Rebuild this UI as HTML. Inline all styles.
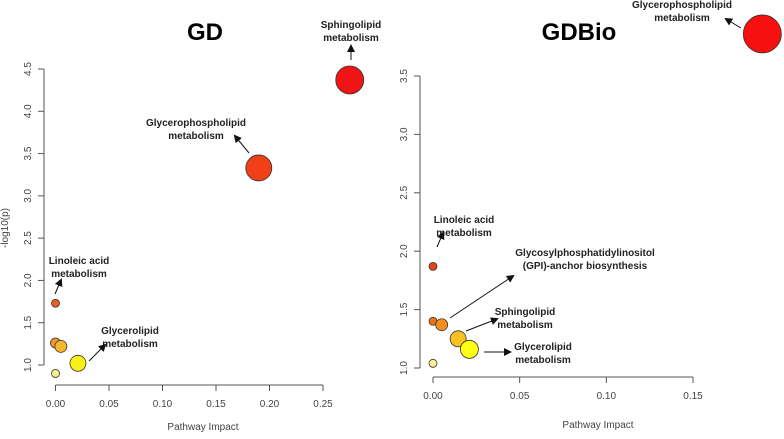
<!DOCTYPE html>
<html><head><meta charset="utf-8"><style>
body{margin:0;background:#fff;width:784px;height:434px;overflow:hidden}
svg{font-family:"Liberation Sans",sans-serif}
.tk{font-size:10px;fill:#444}
.an{font-size:10px;font-weight:bold;fill:#222}
</style></head><body>
<svg id="c" width="784" height="434">
<defs><marker id="ah" markerWidth="8" markerHeight="8" refX="6" refY="4" orient="auto"><path d="M0,0 L8,4 L0,8 z" fill="#111"/></marker></defs>
</svg>
<script>
// Left panel (GD)
const gdX=[0,0,0.005,0.021,0,0.19,0.275];
const gdY=[1.73,1.26,1.22,1.02,0.90,3.33,4.37];
const gdR=[4,5,6,8,4,13,14];
const gdCol=["#e8601a","#f0982a","#f5b82a","#f8f018","#f8f088","#f04018","#f01414"];
const gdXTicks=[0,0.05,0.10,0.15,0.20,0.25];
const gdXLabels=["0.00","0.05","0.10","0.15","0.20","0.25"];
const gdYTicks=[1.0,1.5,2.0,2.5,3.0,3.5,4.0,4.5];
const gdYLabels=["1.0","1.5","2.0","2.5","3.0","3.5","4.0","4.5"];
// Right panel (GDBio)
const bioX=[0,0,0.005,0.0145,0.021,0,0.19];
const bioY=[1.87,1.40,1.37,1.25,1.16,1.04,3.86];
const bioR=[4,4,6,8,9,4,19];
const bioCol=["#e84418","#f07018","#f59020","#f8c020","#ffff14","#f8f090","#f81010"];
const bioXTicks=[0,0.05,0.10,0.15];
const bioXLabels=["0.00","0.05","0.10","0.15"];
const bioYTicks=[1.0,1.5,2.0,2.5,3.0,3.5];
const bioYLabels=["1.0","1.5","2.0","2.5","3.0","3.5"];

const svg=document.getElementById('c');
const NS="http://www.w3.org/2000/svg";
function mk(t,a,p){const e=document.createElementNS(NS,t);for(const k in a)e.setAttribute(k,a[k]);(p||svg).appendChild(e);return e;}
function txt(x,y,s,cls,anchor,rot){const e=mk('text',{x:x,y:y,class:cls,'text-anchor':anchor||'middle'});if(rot)e.setAttribute('transform','rotate(-90 '+x+' '+y+')');e.textContent=s;return e;}

function panel(o){
  const g=mk('g',{});
  
  
  const sx=v=>o.x0+(v-o.xt[0])/(o.xt[o.xt.length-1]-o.xt[0])*(o.x1-o.x0);
  const sy=v=>o.y0-(v-o.yt[0])/(o.yt[o.yt.length-1]-o.yt[0])*(o.y0-o.y1);
  const xa=mk('g',{},g);
  
  
  mk('line',{x1:o.x0,x2:o.x1,y1:o.ax,y2:o.ax,stroke:'#555'},xa);
  o.xt.forEach((v,i)=>{mk('line',{x1:sx(v),x2:sx(v),y1:o.ax,y2:o.ax+6,stroke:'#555'},xa);const t=txt(sx(v),o.ax+22,o.xl[i],'tk');xa.appendChild(t);});
  const ya=mk('g',{},g);
  
  
  mk('line',{x1:o.ay,x2:o.ay,y1:o.y0,y2:o.y1,stroke:'#555'},ya);
  o.yt.forEach((v,i)=>{mk('line',{x1:o.ay-6,x2:o.ay,y1:sy(v),y2:sy(v),stroke:'#555'},ya);const t=txt(o.ay-13,sy(v),o.yl[i],'tk','middle',true);ya.appendChild(t);});
  o.px.forEach((v,i)=>{const c=mk('circle',{cx:sx(v),cy:sy(o.py[i]),r:o.pr[i],fill:o.pc[i],stroke:'#333','stroke-width':0.8},g);
    
    });
  return g;
}
panel({name:'gd-panel',x0:55.5,x1:323,ax:385,ay:44,y0:365,y1:69,xt:gdXTicks,xl:gdXLabels,yt:gdYTicks,yl:gdYLabels,px:gdX,py:gdY,pr:gdR,pc:gdCol});
panel({name:'gdbio-panel',x0:433,x1:693,ax:377,ay:420,y0:368,y1:76,xt:bioXTicks,xl:bioXLabels,yt:bioYTicks,yl:bioYLabels,px:bioX,py:bioY,pr:bioR,pc:bioCol});

function title(x,y,s,name,size){const t=txt(x,y,s,'');t.setAttribute('font-size',size);t.setAttribute('font-weight','bold');
  
  }
title(205,40,'GD','gd-title',24);
title(579,40,'GDBio','gdbio-title',24);
const xt1=txt(203,430,'Pathway Impact','tk');
const xt2=txt(598,428,'Pathway Impact','tk');xt2.setAttribute('font-size','11');
const yt1=txt(8,228,'-log10(p)','tk','middle',true);

function ann(lines,x,y,ax1,ay1,ax2,ay2,name){
  const g=mk('g',{});
  
  
  lines.forEach((l,i)=>{const t=txt(x,y+i*13,l,'an');g.appendChild(t);});
  mk('line',{x1:ax1,y1:ay1,x2:ax2,y2:ay2,stroke:'#111','stroke-width':1,'marker-end':'url(#ah)'},g);
}
ann(['Sphingolipid','metabolism'],351,28,351,60,351,46,'gd-sphingolipid-label');
ann(['Glycerophospholipid','metabolism'],196,126,249,153,235,136,'gd-glycerophospholipid-label');
ann(['Linoleic acid','metabolism'],79,264,55,294,61,280,'gd-linoleic-label');
ann(['Glycerolipid','metabolism'],130,334,89,361,105,345,'gd-glycerolipid-label');
ann(['Glycerophospholipid','metabolism'],682,8,741,28,726,19,'gdbio-glycerophospholipid-label');
ann(['Linoleic acid','metabolism'],464,223,437,247,443,233,'gdbio-linoleic-label');
ann(['Glycosylphosphatidylinositol','(GPI)-anchor biosynthesis'],585,256,450,318,513,276,'gdbio-gpi-label');
ann(['Sphingolipid','metabolism'],525,315,466,331,497,319,'gdbio-sphingolipid-label');
ann(['Glycerolipid','metabolism'],543,350,484,352,510,352,'gdbio-glycerolipid-label');
</script>
</body></html>
